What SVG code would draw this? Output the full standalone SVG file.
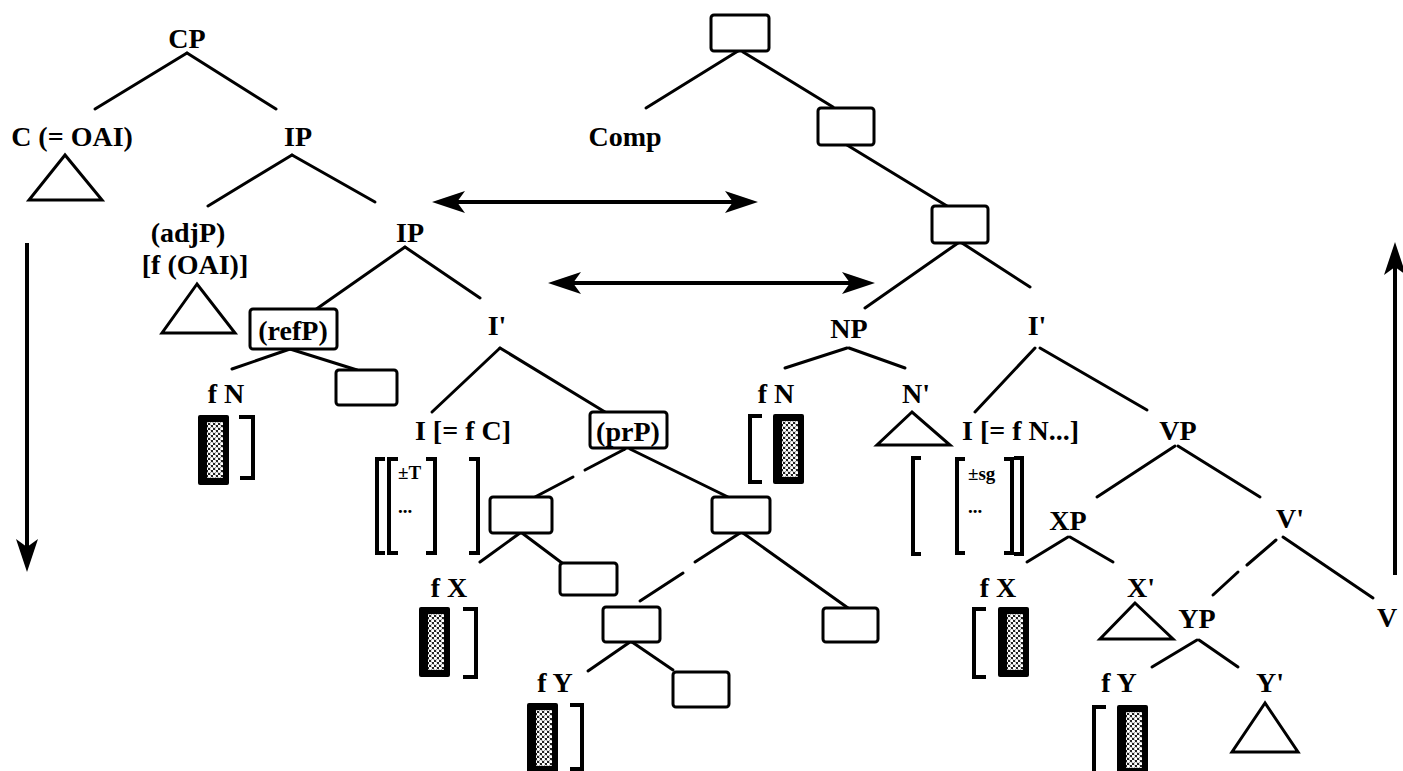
<svg xmlns="http://www.w3.org/2000/svg" width="1403" height="771" viewBox="0 0 1403 771">
  <style>
    text { font-family: "Liberation Serif", "Times New Roman", serif; font-weight: bold; font-size: 28px; fill: #000; text-anchor: middle; }
    text.feat { font-size: 19px; text-anchor: start; }
    text.start { text-anchor: start; }
    .edge { stroke: #000; stroke-width: 3; fill: none; stroke-linecap: round; }
    .box { fill: #fff; stroke: #000; stroke-width: 3; }
    .tri { fill: none; stroke: #000; stroke-width: 3; stroke-linejoin: miter; }
    .brk { fill: none; stroke: #000; stroke-width: 4; }
    .arrow { stroke: #000; stroke-width: 4; fill: none; marker-end: url(#head); }
    .arrow2 { stroke: #000; stroke-width: 4; fill: none; marker-end: url(#head); marker-start: url(#head); }
  </style>
  <defs>
    <marker id="head" viewBox="-14 -12 36 24" refX="0" refY="0" markerWidth="36" markerHeight="24" markerUnits="userSpaceOnUse" orient="auto-start-reverse">
      <path d="M20,0 L-13,-11 L-5,0 L-13,11 Z" fill="#000"/>
    </marker>
    <pattern id="dots" width="5" height="5" patternUnits="userSpaceOnUse">
      <rect width="5" height="5" fill="#222"/>
      <circle cx="1.25" cy="1.25" r="1.65" fill="#fff"/>
      <circle cx="3.75" cy="3.75" r="1.65" fill="#fff"/>
    </pattern>
    <!-- shaded feature bar -->
    <g id="bar">
      <rect x="0" y="0" width="31" height="70" rx="2" fill="#000"/>
      <rect x="9" y="7" width="16" height="56" fill="url(#dots)"/>
    </g>
  </defs>

  <rect width="1403" height="771" fill="#fff"/>

  <!-- connectors -->
  <g id="connectors">
    <!-- left tree -->
    <line class="edge" x1="187" y1="53" x2="95" y2="109"/>
    <line class="edge" x1="187" y1="53" x2="276" y2="109"/>
    <line class="edge" x1="292" y1="155" x2="208" y2="206"/>
    <line class="edge" x1="292" y1="155" x2="375" y2="202"/>
    <line class="edge" x1="405" y1="247" x2="315" y2="310"/>
    <line class="edge" x1="405" y1="247" x2="480" y2="298"/>
    <line class="edge" x1="290" y1="349" x2="232" y2="369"/>
    <line class="edge" x1="290" y1="349" x2="357" y2="370"/>
    <line class="edge" x1="500" y1="348" x2="432" y2="412"/>
    <line class="edge" x1="500" y1="348" x2="605" y2="412"/>
    <line class="edge" x1="625" y1="449" x2="585" y2="470"/>
    <line class="edge" x1="573" y1="477" x2="535" y2="497"/>
    <line class="edge" x1="630" y1="449" x2="728" y2="497"/>
    <line class="edge" x1="520" y1="533" x2="480" y2="562"/>
    <line class="edge" x1="522" y1="533" x2="562" y2="563"/>
    <line class="edge" x1="740" y1="533" x2="695" y2="562"/>
    <line class="edge" x1="683" y1="573" x2="640" y2="601"/>
    <line class="edge" x1="743" y1="533" x2="848" y2="608"/>
    <line class="edge" x1="630" y1="642" x2="588" y2="671"/>
    <line class="edge" x1="632" y1="642" x2="673" y2="670"/>
    <!-- right tree -->
    <line class="edge" x1="738" y1="51" x2="646" y2="108"/>
    <line class="edge" x1="743" y1="52" x2="833" y2="107"/>
    <line class="edge" x1="847" y1="145" x2="947" y2="206"/>
    <line class="edge" x1="958" y1="243" x2="865" y2="308"/>
    <line class="edge" x1="962" y1="243" x2="1030" y2="287"/>
    <line class="edge" x1="847" y1="348" x2="785" y2="368"/>
    <line class="edge" x1="849" y1="348" x2="905" y2="368"/>
    <line class="edge" x1="1035" y1="348" x2="975" y2="412"/>
    <line class="edge" x1="1040" y1="348" x2="1147" y2="410"/>
    <line class="edge" x1="1175" y1="446" x2="1097" y2="497"/>
    <line class="edge" x1="1178" y1="446" x2="1260" y2="497"/>
    <line class="edge" x1="1068" y1="537" x2="1027" y2="562"/>
    <line class="edge" x1="1070" y1="537" x2="1113" y2="562"/>
    <line class="edge" x1="1276" y1="540" x2="1247" y2="565"/>
    <line class="edge" x1="1238" y1="572" x2="1213" y2="595"/>
    <line class="edge" x1="1283" y1="537" x2="1373" y2="598"/>
    <line class="edge" x1="1197" y1="640" x2="1152" y2="667"/>
    <line class="edge" x1="1199" y1="640" x2="1238" y2="667"/>
    <!-- movement arrows -->
    <line class="arrow" x1="27" y1="243" x2="27" y2="552"/>
    <line class="arrow" x1="1395" y1="575" x2="1395" y2="262"/>
    <line class="arrow2" x1="452" y1="202" x2="738" y2="202"/>
    <line class="arrow2" x1="568" y1="283" x2="855" y2="283"/>
  </g>

  <!-- left tree nodes -->
  <g id="cp"><text x="187" y="48">CP</text></g>
  <g id="c-oai">
    <text x="72" y="146">C (= OAI)</text>
    <polygon class="tri" points="65,155 29,200 102,200"/>
  </g>
  <g id="ip1"><text x="298" y="146">IP</text></g>
  <g id="adjp">
    <text x="188" y="242">(adjP)</text>
    <text x="195" y="274">[f (OAI)]</text>
    <polygon class="tri" points="197,284 162,333 235,333"/>
  </g>
  <g id="ip2"><text x="410" y="242">IP</text></g>
  <g id="refp">
    <rect class="box" x="250" y="309" width="87" height="40" rx="3"/>
    <text x="293" y="340">(refP)</text>
  </g>
  <g id="refp-box"><rect class="box" x="336" y="370" width="61" height="35" rx="3"/></g>
  <g id="fn-left">
    <text x="226" y="403">f N</text>
    <use href="#bar" x="198" y="415"/>
    <path class="brk" d="M239,417 H253 V478 H240"/>
  </g>
  <g id="ibar-left"><text x="497" y="335">I'</text></g>
  <g id="i-fc">
    <text x="463" y="440">I [= f C]</text>
    <path class="brk" d="M385,459 H377 V553 H385"/>
    <path class="brk" d="M398,459 H389 V553 H398"/>
    <text class="feat" x="398" y="479">±T</text>
    <text class="feat" x="398" y="513">...</text>
    <path class="brk" d="M426,459 H435 V553 H426"/>
    <path class="brk" d="M469,459 H478 V553 H469"/>
  </g>
  <g id="prp">
    <rect class="box" x="590" y="412" width="77" height="36" rx="3"/>
    <text x="628" y="441">(prP)</text>
  </g>
  <g id="box-a"><rect class="box" x="490" y="497" width="62" height="36" rx="3"/></g>
  <g id="box-b"><rect class="box" x="560" y="563" width="57" height="32" rx="3"/></g>
  <g id="fx-left">
    <text x="449" y="597">f X</text>
    <use href="#bar" x="419" y="607"/>
    <path class="brk" d="M463,609 H476 V677 H463"/>
  </g>
  <g id="box-c"><rect class="box" x="712" y="497" width="58" height="36" rx="3"/></g>
  <g id="box-d"><rect class="box" x="603" y="607" width="57" height="35" rx="3"/></g>
  <g id="box-e"><rect class="box" x="823" y="608" width="55" height="34" rx="3"/></g>
  <g id="box-f"><rect class="box" x="673" y="672" width="56" height="35" rx="3"/></g>
  <g id="fy-left">
    <text x="555" y="692">f Y</text>
    <use href="#bar" x="527" y="703"/>
    <path class="brk" d="M570,705 H582 V769 H570"/>
  </g>

  <!-- right tree nodes -->
  <g id="top-box"><rect class="box" x="711" y="15" width="58" height="36" rx="3"/></g>
  <g id="comp"><text x="625" y="146">Comp</text></g>
  <g id="box-2"><rect class="box" x="818" y="108" width="56" height="37" rx="3"/></g>
  <g id="box-3"><rect class="box" x="932" y="206" width="56" height="37" rx="3"/></g>
  <g id="np"><text x="849" y="338">NP</text></g>
  <g id="fn-right">
    <text x="776" y="403">f N</text>
    <path class="brk" d="M762,416 H750 V482 H762"/>
    <use href="#bar" x="773" y="414"/>
  </g>
  <g id="nbar">
    <text x="916" y="403">N'</text>
    <polygon class="tri" points="912,412 877,445 950,445"/>
  </g>
  <g id="ibar-right"><text x="1037" y="335">I'</text></g>
  <g id="i-fn">
    <text class="start" x="962" y="440">I [= f N...]</text>
    <path class="brk" d="M921,458 H913 V554 H921"/>
    <path class="brk" d="M965,459 H957 V553 H965"/>
    <text class="feat" x="968" y="480">±sg</text>
    <text class="feat" x="968" y="513">...</text>
    <path class="brk" d="M1004,459 H1012 V553 H1004"/>
    <path class="brk" d="M1014,458 H1022 V554 H1014"/>
  </g>
  <g id="vp"><text x="1178" y="440">VP</text></g>
  <g id="xp"><text x="1068" y="530">XP</text></g>
  <g id="fx-right">
    <text x="998" y="597">f X</text>
    <path class="brk" d="M986,609 H974 V677 H986"/>
    <use href="#bar" x="998" y="607"/>
  </g>
  <g id="xbar">
    <text x="1141" y="597">X'</text>
    <polygon class="tri" points="1135,603 1100,639 1173,639"/>
  </g>
  <g id="vbar"><text x="1290" y="528">V'</text></g>
  <g id="v"><text x="1387" y="627">V</text></g>
  <g id="yp"><text x="1197" y="628">YP</text></g>
  <g id="fy-right">
    <text x="1119" y="692">f Y</text>
    <path class="brk" d="M1106,707 H1094 V771"/>
    <use href="#bar" x="1117" y="705"/>
  </g>
  <g id="ybar">
    <text x="1270" y="692">Y'</text>
    <polygon class="tri" points="1265,703 1232,752 1298,752"/>
  </g>
</svg>
